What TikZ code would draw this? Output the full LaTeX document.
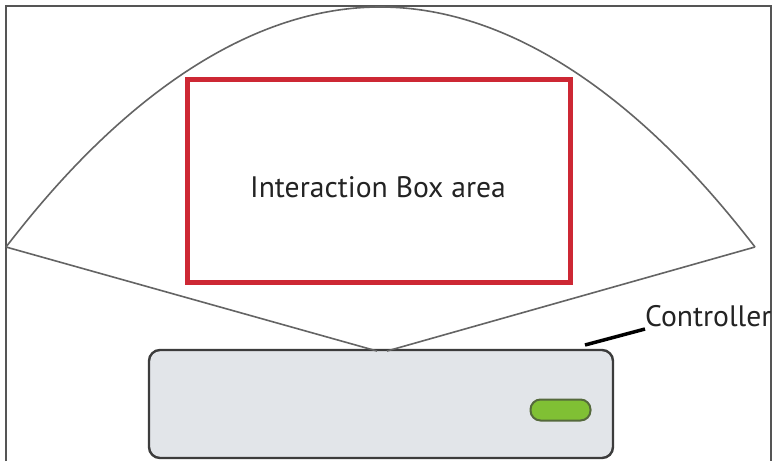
\documentclass[tikz,border=0pt]{standalone}
\usepackage{fontspec}
\setmainfont{PT Sans}
\begin{document}
\begin{tikzpicture}[x=1pt,y=-1pt,
  frameline/.style={draw=framegray,line width=2pt},
  fanline/.style={draw=fangray,line width=1.6pt},
  redbox/.style={draw=boxred,line width=5pt,minimum width=383pt,minimum height=203pt,inner sep=0pt,outer sep=0pt},
  ctrlbox/.style={draw=ctrlborder,fill=ctrlfill,line width=2.4pt,rounded corners=11pt,minimum width=464pt,minimum height=108pt,inner sep=0pt,outer sep=0pt},
  pill/.style={draw=pillborder,fill=pillgreen,line width=2pt,rounded corners=10pt,minimum width=60pt,minimum height=21pt,inner sep=0pt,outer sep=0pt},
  label/.style={font=\fontsize{29.6}{32}\selectfont,text=textgray,inner sep=0pt},
  leader/.style={draw=black,line width=3.5pt}]
\definecolor{framegray}{RGB}{85,85,85}
\definecolor{fangray}{RGB}{100,100,100}
\definecolor{boxred}{RGB}{205,40,52}
\definecolor{ctrlborder}{RGB}{60,60,60}
\definecolor{ctrlfill}{RGB}{226,229,233}
\definecolor{pillborder}{RGB}{85,105,60}
\definecolor{pillgreen}{RGB}{128,192,52}
\definecolor{textgray}{RGB}{35,35,35}
\clip (0,0) rectangle (773,461);
\fill[white] (0,0) rectangle (773,461);
% frame
\draw[frameline] (6,461) -- (6,6) -- (771,6) -- (771,461);
% controller
\node[ctrlbox] (ctrl) at (381,404) {};
\node[pill] (led) at (560.5,410) {};
% fan
\coordinate (L) at (6,247);
\coordinate (R) at (755,247);
\coordinate (T) at (380,7);
\coordinate (fl) at (377,351);
\coordinate (fr) at (387,351);
\draw[fanline] (L) parabola bend (T) (R);
\draw[fanline] (L) -- (fl);
\draw[fanline] (R) -- (fr);
% interaction box
\node[redbox] (ibox) at (379,180.5) {};
\node[label,anchor=base] (itext) at (378,197) {Interaction Box area};
% controller label
\node[label,anchor=base west] (ctext) at (645,326) {Controller};
\coordinate (lead1) at (585,345);
\draw[leader] (lead1) -- (ctext.west |- 0,329) ++(-27,0);
\end{tikzpicture}
\end{document}
